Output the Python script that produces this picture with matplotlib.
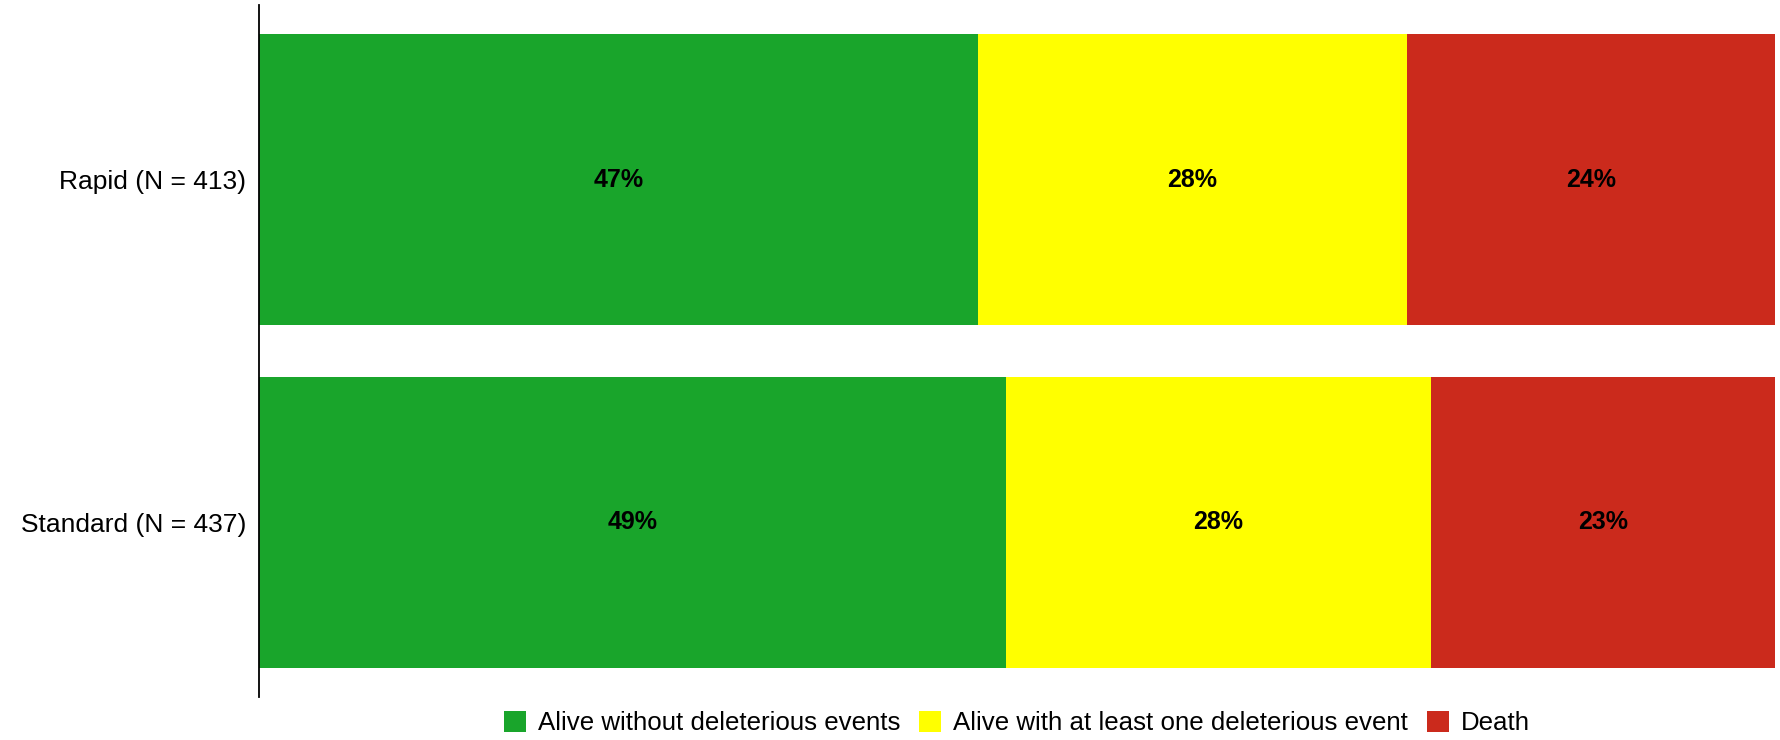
import numpy as np
import matplotlib.pyplot as plt

plt.rcParams['font.family'] = ['Liberation Sans', 'DejaVu Sans']

groups = ['Rapid (N = 413)', 'Standard (N = 437)']
alive_no_event = [47.4, 49.3]
alive_event = [28.3, 28.0]
death = [24.3, 22.7]
labels_no_event = ['47%', '49%']
labels_event = ['28%', '28%']
labels_death = ['24%', '23%']

series = [
    ('Alive without deleterious events', alive_no_event, labels_no_event, '#19A52B'),
    ('Alive with at least one deleterious event', alive_event, labels_event, '#FFFF00'),
    ('Death', death, labels_death, '#CB2A1C'),
]

fig = plt.figure(figsize=(17.81, 7.4), dpi=100)
ax = fig.add_axes([0.1454, 0.0581, 0.8512, 0.9351])

y = np.arange(len(groups))
left = np.zeros(len(groups))
for name, vals, labs, col in series:
    vals = np.array(vals)
    bars = ax.barh(y, vals, left=left, height=0.85, color=col, label=name)
    ax.bar_label(bars, labels=labs, label_type='center', fontsize=18,
                 fontweight='bold', color='black')
    left += vals

ax.set_xlim(0, 100)
ax.set_ylim(1.51, -0.51)
ax.set_yticks(y)
ax.set_yticklabels(groups, fontsize=19)
ax.tick_params(axis='y', length=0, pad=9)
ax.set_xticks([])
for s in ['top', 'right', 'bottom']:
    ax.spines[s].set_visible(False)
ax.spines['left'].set_linewidth(1.3)

# legend centred under the plot area
fig.legend(loc='lower center', bbox_to_anchor=(0.571, -0.025), ncol=3,
           frameon=False, fontsize=18.6, handlelength=0.85, handleheight=0.85,
           handletextpad=0.45, columnspacing=0.75)

plt.savefig('out.png', dpi=100)
